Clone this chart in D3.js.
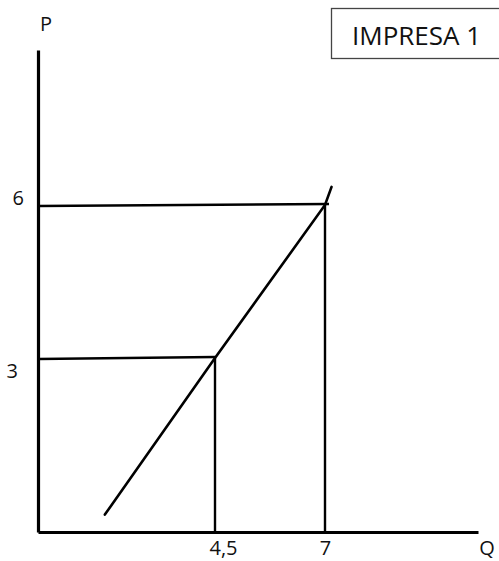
<!DOCTYPE html>
<html>
<head>
<meta charset="utf-8">
<script src="https://cdn.jsdelivr.net/npm/d3@7"></script>
<style>
  body { margin: 0; background: #fff; }
  svg { display: block; font-family: "Open Sans", sans-serif; }
</style>
</head>
<body>
<div id="chart"></div>
<script>
// Chart data
const title = "IMPRESA 1";
const axisLabels = { x: "Q", y: "P" };
const qTicks = [4.5, 7];
const qTickLabels = ["4,5", "7"];
const pTicks = [3, 6];
const pTickLabels = ["3", "6"];
// supply curve (hand drawn, slightly beyond the marked points)
const supplyQ = [1.7, 4.5, 7, 7.15];
const supplyP = [0.3, 3, 6, 6.35];

// Layout configuration
const WIDTH = 499;
const HEIGHT = 561;
const COLORS = { ink: "#000", text: "#111", box: "#444" };
const FONT_SIZE = "20px";

const svg = d3.select("#chart").append("svg")
  .attr("width", WIDTH)
  .attr("height", HEIGHT);

// Scales - piecewise to follow the hand-drawn spacing
const x = d3.scaleLinear()
  .domain([0, 4.5, 7, 10.5])
  .range([38, 215, 325, 478]);

const y = d3.scaleLinear()
  .domain([0, 3, 6, 9])
  .range([532, 358, 205, 50]);

// Guide lines from each point to the axes
const points = qTicks.map((q, i) => ({ q: q, p: pTicks[i] }));

svg.selectAll(".hguide")
  .data(points)
  .enter()
  .append("line")
  .attr("class", "hguide")
  .attr("x1", x(0))
  .attr("x2", (d) => x(d.q) + (d.q === 7 ? 4 : 0))
  .attr("y1", (d) => y(d.p) + 1)
  .attr("y2", (d) => y(d.p) - 1)
  .attr("stroke", COLORS.ink)
  .attr("stroke-width", 2.4);

svg.selectAll(".vguide")
  .data(points)
  .enter()
  .append("line")
  .attr("class", "vguide")
  .attr("x1", (d) => x(d.q))
  .attr("x2", (d) => x(d.q))
  .attr("y1", (d) => y(d.p))
  .attr("y2", y(0))
  .attr("stroke", COLORS.ink)
  .attr("stroke-width", 2.4);

// Supply line
const line = d3.line()
  .x((d) => x(d.q))
  .y((d) => y(d.p));

svg.append("path")
  .datum(supplyQ.map((q, i) => ({ q: q, p: supplyP[i] })))
  .attr("d", line)
  .attr("fill", "none")
  .attr("stroke", COLORS.ink)
  .attr("stroke-width", 2.6)
  .attr("stroke-linecap", "round");

// X axis
const xAxis = svg.append("g")
  .attr("transform", `translate(0, ${y(0)})`)
  .call(d3.axisBottom(x)
    .tickValues(qTicks)
    .tickFormat((d, i) => qTickLabels[i])
    .tickSize(0)
    .tickPadding(9));

xAxis.select(".domain")
  .attr("stroke", COLORS.ink)
  .attr("stroke-width", 3.2);

xAxis.selectAll(".tick text")
  .attr("dx", (d) => (d === 4.5 ? 8 : 0))
  .attr("fill", COLORS.text)
  .style("font-size", FONT_SIZE)
  .style("font-family", "Open Sans");

// Y axis
const yAxis = svg.append("g")
  .attr("transform", `translate(${x(0)}, 0)`)
  .call(d3.axisLeft(y)
    .tickValues(pTicks)
    .tickFormat((d, i) => pTickLabels[i])
    .tickSize(0)
    .tickPadding(14));

yAxis.select(".domain")
  .attr("stroke", COLORS.ink)
  .attr("stroke-width", 3.2);

yAxis.selectAll(".tick text")
  .attr("dx", (d) => (d === 6 ? 0 : -6))
  .attr("dy", (d) => (d === 6 ? "-0.05em" : "0.95em"))
  .attr("fill", COLORS.text)
  .style("font-size", FONT_SIZE)
  .style("font-family", "Open Sans");

// Axis names
svg.append("text")
  .attr("x", x(0) + 8)
  .attr("y", 31)
  .attr("text-anchor", "middle")
  .attr("fill", COLORS.text)
  .style("font-size", FONT_SIZE)
  .text(axisLabels.y);

svg.append("text")
  .attr("x", 487)
  .attr("y", 555)
  .attr("text-anchor", "middle")
  .attr("fill", COLORS.text)
  .style("font-size", FONT_SIZE)
  .text(axisLabels.x);

// Title box
svg.append("rect")
  .attr("x", 331.5)
  .attr("y", 8.5)
  .attr("width", 180)
  .attr("height", 50)
  .attr("fill", "#fff")
  .attr("stroke", COLORS.box)
  .attr("stroke-width", 1.3);

svg.append("text")
  .attr("x", 352)
  .attr("y", 45)
  .attr("fill", COLORS.text)
  .style("font-size", "26px")
  .text(title);
</script>
</body>
</html>
